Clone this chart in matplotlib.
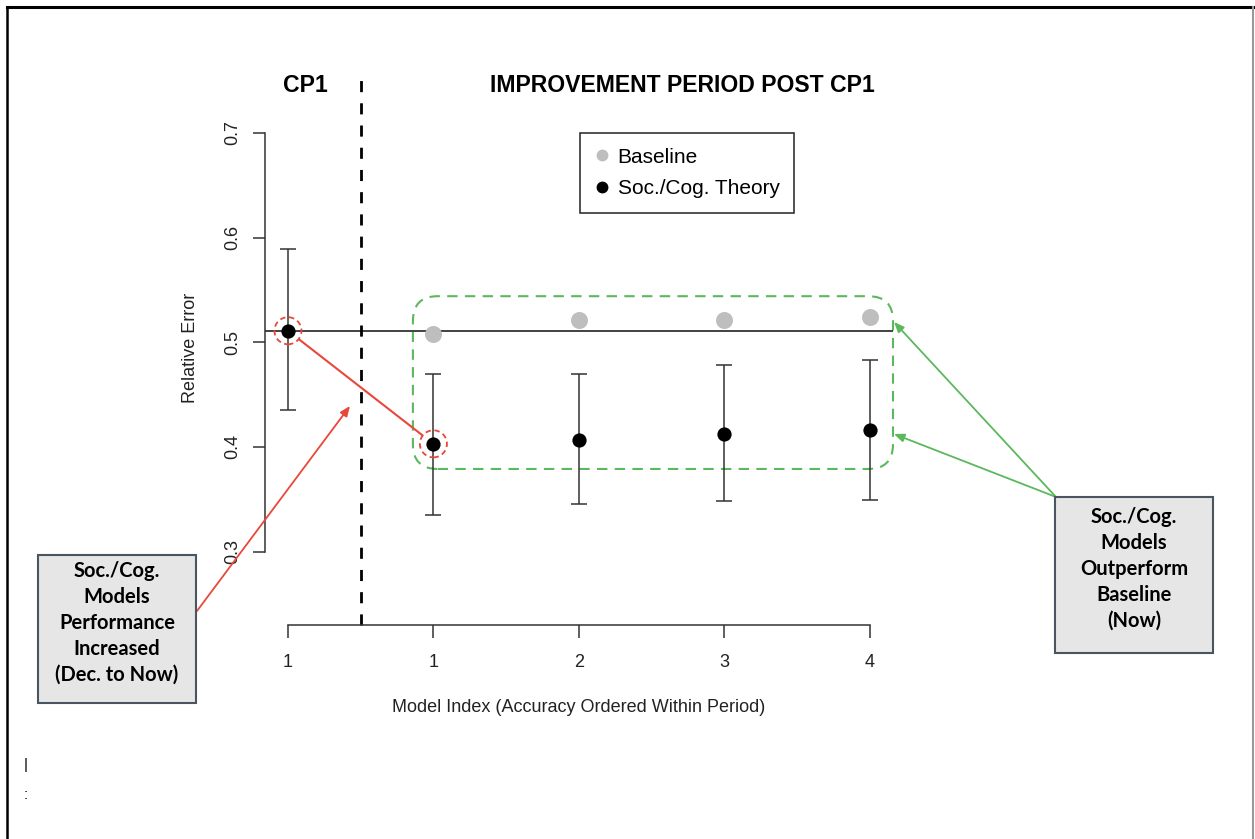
import matplotlib
matplotlib.use("Agg")
import matplotlib.pyplot as plt
from matplotlib.patches import FancyBboxPatch, Rectangle
from matplotlib.lines import Line2D

# data
positions = [1, 2, 3, 4, 5]
tick_labels = ["1", "1", "2", "3", "4"]
soc_error = [0.511, 0.403, 0.407, 0.412, 0.416]
soc_upper = [0.589, 0.470, 0.470, 0.478, 0.483]
soc_lower = [0.435, 0.335, 0.346, 0.348, 0.349]
base_pos = [2, 3, 4, 5]
base_error = [0.508, 0.521, 0.521, 0.524]
cp1_level = 0.511

W, H = 1255, 839
fig = plt.figure(figsize=(W / 100, H / 100), dpi=100)
plt.rcParams['font.family'] = ['Liberation Sans', 'DejaVu Sans']

def fx(px):
    return px / W

def fy(py):
    return 1 - py / H

ax = fig.add_axes([fx(264.7), fy(625), fx(893) - fx(264.7), fy(70) - fy(625)])
ax.set_xlim(0.84, 5.16)
ax.set_ylim(0.23, 0.76)
ax.patch.set_alpha(0)

# error bars + points
yerr = [[s - l for s, l in zip(soc_error, soc_lower)],
        [u - s for s, u in zip(soc_error, soc_upper)]]
ax.errorbar(positions, soc_error, yerr=yerr, fmt='none', ecolor='#333333',
            elinewidth=1.1, capsize=6, capthick=1.1, zorder=3)
ax.scatter(base_pos, base_error, s=150, color='#bebebe', zorder=4, linewidths=0)
ax.scatter(positions, soc_error, s=105, color='black', zorder=5, linewidths=0)

# reference line at CP1 level and period split
ax.axhline(cp1_level, color='#333333', lw=1.3, zorder=2)
ax.plot([1.5, 1.5], [0.23, 0.76], color='black', lw=2, ls=(0, (4, 4)), zorder=2, clip_on=False)

# axes styling like R base graphics
for side in ['top', 'right']:
    ax.spines[side].set_visible(False)
ax.spines['left'].set_bounds(0.3, 0.7)
ax.spines['bottom'].set_bounds(1, 5)
for side in ['left', 'bottom']:
    ax.spines[side].set_color('#333333')
    ax.spines[side].set_linewidth(1.1)
ax.set_xticks(positions)
ax.set_xticklabels(tick_labels)
ax.set_yticks([0.3, 0.4, 0.5, 0.6, 0.7])
ax.set_yticklabels(["0.3", "0.4", "0.5", "0.6", "0.7"], rotation=90, va='center')
ax.tick_params(axis='both', length=9, width=1.1, color='#333333', labelsize=13,
               labelcolor='#222222', pad=12)
ax.tick_params(axis='y', pad=8)
ax.set_xlabel("Model Index (Accuracy Ordered Within Period)", fontsize=13,
              color='#222222', labelpad=20)
ax.set_ylabel("Relative Error", fontsize=13, color='#222222', labelpad=18)

# section titles
fig.text(fx(305), fy(86), "CP1", fontsize=16.6, fontweight='bold', ha='center', va='center')
fig.text(fx(682), fy(86), "IMPROVEMENT PERIOD POST CP1", fontsize=16.6, fontweight='bold',
         ha='center', va='center')

# legend
handles = [Line2D([], [], marker='o', ls='none', color='#bebebe', markersize=7.5),
           Line2D([], [], marker='o', ls='none', color='black', markersize=7.5)]
leg = ax.legend(handles, ["Baseline", "Soc./Cog. Theory"], loc='upper left',
                bbox_to_anchor=(fx(580), fy(133)), bbox_transform=fig.transFigure,
                fancybox=False, edgecolor='#222222', fontsize=15, borderaxespad=0,
                handletextpad=0.4, handlelength=0.7, borderpad=0.7, labelspacing=0.6,
                framealpha=1)
leg.get_frame().set_linewidth(1.1)

# green rounded highlight box
xpx = 1 / 145.5
ypx = 0.1 / 104.8
green = '#5cb85c'
box = FancyBboxPatch((1.859, 0.379), 5.16 - 1.859, 0.544 - 0.379,
                     boxstyle="round,pad=0,rounding_size=0.17",
                     mutation_aspect=ypx / xpx, fill=False, ec=green, lw=1.5,
                     ls=(0, (5, 3.5)), zorder=1, clip_on=False)
ax.add_patch(box)

# red dashed circles and connecting line
red = '#e8483a'
ax.scatter([positions[0], positions[1]], [soc_error[0], soc_error[1]], s=380,
           facecolors='none', edgecolors=red, linewidths=1.3, linestyles=(0, (3, 2)), zorder=6)
ax.annotate('', xy=(positions[1], soc_error[1]), xytext=(positions[0], soc_error[0]),
            arrowprops=dict(arrowstyle='-', color=red, lw=1.5, shrinkA=10, shrinkB=10))

# annotation boxes
def note_box(x0, y0, x1, y1, text):
    rect = Rectangle((fx(x0), fy(y1)), fx(x1) - fx(x0), fy(y0) - fy(y1),
                     transform=fig.transFigure, fc='#e6e6e6', ec='#4a5562', lw=1.5,
                     zorder=10)
    fig.patches.append(rect)
    fig.text(fx((x0 + x1) / 2), fy((y0 + y1) / 2 - 6), text, ha='center', va='center',
             fontsize=14.5, fontweight='bold', family=['Lato', 'DejaVu Sans'],
             linespacing=1.38, zorder=11)

note_box(38, 555, 196, 703, "Soc./Cog.\nModels\nPerformance\nIncreased\n(Dec. to Now)")
note_box(1055, 497, 1213, 653, "Soc./Cog.\nModels\nOutperform\nBaseline\n(Now)")

# arrows from the boxes
ax.annotate('', xy=(fx(350), fy(406)), xycoords='figure fraction',
            xytext=(fx(197), fy(611)), textcoords='figure fraction',
            arrowprops=dict(arrowstyle='-|>,head_length=0.6,head_width=0.25', color=red,
                            lw=1.3, shrinkA=0, shrinkB=0))
for yh in [322, 434]:
    ax.annotate('', xy=(fx(894), fy(yh)), xycoords='figure fraction',
                xytext=(fx(1056), fy(497)), textcoords='figure fraction',
                arrowprops=dict(arrowstyle='-|>,head_length=0.6,head_width=0.25',
                                color=green, lw=1.3, shrinkA=0, shrinkB=0))

# page frame and cropped caption fragments
fig.add_artist(Line2D([fx(7), fx(1253)], [fy(7), fy(7)], color='black', lw=2.2))
fig.add_artist(Line2D([fx(7), fx(7)], [fy(7), 0], color='black', lw=1.8))
fig.add_artist(Line2D([fx(1253), fx(1253)], [fy(7), 0], color='#999999', lw=1.5))
fig.text(fx(26), fy(765), "|", fontsize=11, ha='center', va='center')
fig.text(fx(26), fy(795), ":", fontsize=11, ha='center', va='center')

fig.savefig("out.png", dpi=100)
